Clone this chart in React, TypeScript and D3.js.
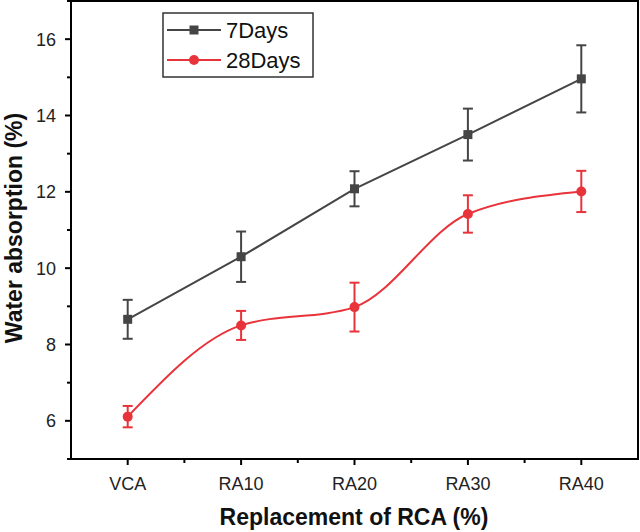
import React from "react";
import * as d3 from "d3";

const categories = ["VCA", "RA10", "RA20", "RA30", "RA40"];
const days7 = [8.66, 10.3, 12.08, 13.5, 14.96];
const days7Err = [0.51, 0.66, 0.46, 0.68, 0.88];
const days28 = [6.11, 8.5, 8.98, 11.42, 12.01];
const days28Err = [0.28, 0.38, 0.64, 0.49, 0.54];
const yMajorTicks = [6, 8, 10, 12, 14, 16];
const yMinorTicks = [5, 7, 9, 11, 13, 15, 17];
const seriesNames = ["7Days", "28Days"];

const W = 640;
const H = 532;
const L = 71;
const R = 638;
const T = 1;
const B = 459;

const GRAY = "#454545";
const RED = "#e8333b";
const FONT = "'Liberation Sans', Arial, sans-serif";

export default function App() {
  const x = d3.scaleLinear().domain([-0.5, categories.length - 0.5]).range([L, R]);
  const y = d3.scaleLinear().domain([5, 17]).range([B, T]);

  const line7 = d3
    .line<number>()
    .x((_, i) => x(i))
    .y((d) => y(d))
    .curve(d3.curveLinear);
  const line28 = d3
    .line<number>()
    .x((_, i) => x(i))
    .y((d) => y(d))
    .curve(d3.curveMonotoneX);

  const minorX = d3.range(categories.length - 1).map((i) => i + 0.5);

  const errBar = (v: number, e: number, i: number, color: string, key: string) => (
    <g key={key} stroke={color} strokeWidth={2}>
      <line x1={x(i)} x2={x(i)} y1={y(v + e)} y2={y(v - e)} />
      <line x1={x(i) - 5} x2={x(i) + 5} y1={y(v + e)} y2={y(v + e)} />
      <line x1={x(i) - 5} x2={x(i) + 5} y1={y(v - e)} y2={y(v - e)} />
    </g>
  );

  return (
    <svg
      width={W}
      height={H}
      style={{ position: "absolute", left: 0, top: 0, background: "#fff" }}
      fontFamily={FONT}
    >
      <rect x={0} y={0} width={W} height={H} fill="#fff" />
      {/* plot frame */}
      <rect x={L} y={T} width={R - L} height={B - T} fill="none" stroke="#000" strokeWidth={2} />

      {/* y ticks */}
      {yMajorTicks.map((t) => (
        <g key={"ym" + t}>
          <line x1={L - 6} x2={L} y1={y(t)} y2={y(t)} stroke="#000" strokeWidth={2} />
          <text x={L - 15} y={y(t)} dy="0.36em" textAnchor="end" fontSize={18} fill="#222">
            {t}
          </text>
        </g>
      ))}
      {yMinorTicks.map((t) => (
        <line key={"yn" + t} x1={L - 4} x2={L} y1={y(t)} y2={y(t)} stroke="#000" strokeWidth={2} />
      ))}

      {/* x ticks */}
      {categories.map((c, i) => (
        <g key={"xc" + c}>
          <line x1={x(i)} x2={x(i)} y1={B} y2={B + 6} stroke="#000" strokeWidth={2} />
          <text x={x(i)} y={B + 31} textAnchor="middle" fontSize={18} fill="#222">
            {c}
          </text>
        </g>
      ))}
      {minorX.map((t) => (
        <line key={"xn" + t} x1={x(t)} x2={x(t)} y1={B} y2={B + 4} stroke="#000" strokeWidth={2} />
      ))}

      {/* axis titles */}
      <text
        x={354}
        y={525}
        textAnchor="middle"
        fontSize={23}
        fontWeight="bold"
        fill="#111"
      >
        Replacement of RCA (%)
      </text>
      <text
        transform={`translate(22, 228) rotate(-90)`}
        textAnchor="middle"
        fontSize={23}
        fontWeight="bold"
        fill="#111"
      >
        Water absorption (%)
      </text>

      {/* series lines */}
      <path d={line7(days7) || ""} fill="none" stroke={GRAY} strokeWidth={2} />
      <path d={line28(days28) || ""} fill="none" stroke={RED} strokeWidth={2} />

      {/* error bars */}
      {days7.map((v, i) => errBar(v, days7Err[i], i, GRAY, "e7" + i))}
      {days28.map((v, i) => errBar(v, days28Err[i], i, RED, "e28" + i))}

      {/* markers */}
      {days7.map((v, i) => (
        <rect key={"m7" + i} x={x(i) - 4.5} y={y(v) - 4.5} width={9} height={9} fill={GRAY} />
      ))}
      {days28.map((v, i) => (
        <circle key={"m28" + i} cx={x(i)} cy={y(v)} r={5} fill={RED} />
      ))}

      {/* legend */}
      <rect x={163} y={13} width={150} height={64} fill="#fff" stroke="#333" strokeWidth={1.5} />
      {seriesNames.map((name, k) => {
        const ly = 30 + k * 30;
        const color = k === 0 ? GRAY : RED;
        return (
          <g key={"lg" + name}>
            <line x1={167} x2={221} y1={ly} y2={ly} stroke={color} strokeWidth={2} />
            {k === 0 ? (
              <rect x={194 - 4.5} y={ly - 4.5} width={9} height={9} fill={color} />
            ) : (
              <circle cx={194} cy={ly} r={5} fill={color} />
            )}
            <text x={226} y={ly} dy="0.36em" fontSize={22} fill="#111">
              {name}
            </text>
          </g>
        );
      })}
    </svg>
  );
}
